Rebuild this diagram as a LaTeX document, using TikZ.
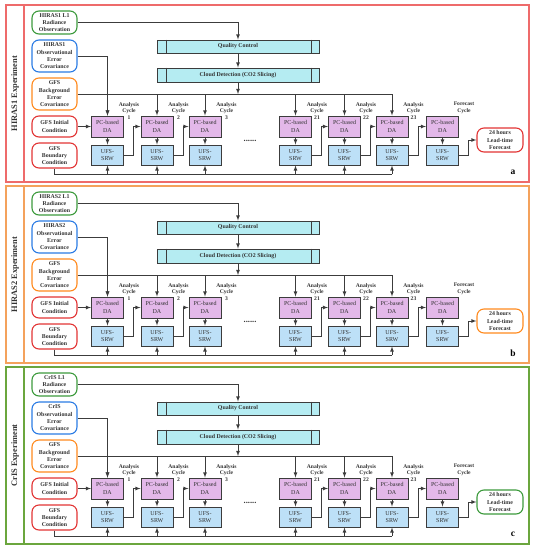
\documentclass[tikz,border=0pt]{standalone}
\usepackage{fontspec}
\setmainfont{Liberation Serif}
\usetikzlibrary{calc,positioning}

\definecolor{linegray}{HTML}{3C3C3C}
\definecolor{textgray}{HTML}{333333}
\definecolor{dafill}{HTML}{E3B8E9}
\definecolor{ufsfill}{HTML}{BDE0F7}
\definecolor{qcfill}{HTML}{B5ECF2}
\definecolor{ingreen}{HTML}{3C9A3C}
\definecolor{inblue}{HTML}{2A7BE4}
\definecolor{inorange}{HTML}{FF8A1E}
\definecolor{inred}{HTML}{E23434}
\definecolor{framea}{HTML}{EE6B6B}
\definecolor{frameb}{HTML}{F4A25C}
\definecolor{framec}{HTML}{6BA63E}

\begin{document}
\begin{tikzpicture}[x=1pt, y=-1pt, >=latex, line width=0.8pt, color=linegray,
	inbox/.style={draw, rounded corners=7pt, line width=1.1pt, fill=white, text=textgray,
		minimum width=45pt, inner sep=0pt, align=center, font=\fontsize{5.9}{7.3}\selectfont\bfseries},
	dabox/.style={draw, line width=1pt, fill=dafill, text=textgray, minimum width=32pt, minimum height=21pt,
		inner sep=0pt, align=center, font=\fontsize{6}{7.3}\selectfont},
	ufsbox/.style={dabox, fill=ufsfill, minimum height=20pt},
	barbox/.style={draw, line width=1pt, fill=qcfill, text=textgray, minimum width=162pt,
		inner sep=0pt, font=\fontsize{5.9}{7.3}\selectfont\bfseries},
	cyc/.style={align=center, text=textgray, inner sep=0pt, font=\fontsize{5.6}{6.6}\selectfont\bfseries}
	]
	\useasboundingbox (0,0) rectangle (533,550);
	\foreach \p/\sat/\fc/\oc/\lt in {0/HIRAS1/framea/inred/a, 1/HIRAS2/frameb/inorange/b, 2/CrIS/framec/ingreen/c}{
	\begin{scope}[yshift={-\p*181pt}]
		% panel frame
		\draw[\fc, line width=1.3pt] (6,5) rectangle (529,182);
		\draw[\fc, line width=1.3pt] (24,5) -- (24,182);
		\node[rotate=90, text=textgray, font=\fontsize{8.4}{10}\selectfont\bfseries] (exp) at (15,93.5) {\sat\ Experiment};
		\node[text=black, font=\fontsize{9.5}{10}\selectfont\bfseries] (letter) at (513,172) {\lt};

		% inputs
		\node[inbox, draw=ingreen, minimum height=23pt] (obs) at (54.5,22.5) {\sat\ L1\\Radiance\\Observation};
		\node[inbox, draw=inblue, minimum height=32pt] (oec) at (54.5,56) {\sat\\Observational\\Error\\Covariance};
		\node[inbox, draw=inorange, minimum height=32pt] (bge) at (54.5,94) {GFS\\Background\\Error\\Covariance};
		\node[inbox, draw=inred, minimum height=21pt] (ic) at (54.5,126.5) {GFS Initial\\Condition};
		\node[inbox, draw=inred, minimum height=25pt] (bc) at (54.5,155.5) {GFS\\Boundary\\Condition};
		\node[inbox, draw=\oc, minimum width=46pt, minimum height=24pt] (out) at (500,140) {24 hours\\Lead-time\\Forecast};

		% preprocessing
		\node[barbox, minimum height=13pt] (qc) at (238,46.5) {Quality Control};
		\node[barbox, minimum height=14pt] (cd) at (238,75) {Cloud Detection (CO2 Slicing)};
		\foreach \b in {qc,cd}{
			\draw[line width=1pt] ([xshift=10pt]\b.north west) -- ([xshift=10pt]\b.south west);
			\draw[line width=1pt] ([xshift=-8pt]\b.north east) -- ([xshift=-8pt]\b.south east);
		}

		% cycles
		\foreach \n/\x in {1/107.5, 2/157, 3/205, 21/295.5, 22/344.5, 23/392, f/442.5}{
			\node[dabox] (da\n) at (\x,126.5) {PC-based\\DA};
			\node[ufsbox] (ufs\n) at (\x,155) {UFS-\\SRW};
			\draw[->] (da\n) -- (ufs\n);
		}
		\foreach \n in {1,2,3,21,22,23}
			\node[cyc] (cyc\n) at ($(da\n.north east)+(5,-4.5)$) {Analysis\\Cycle\\\n};
		\node[cyc] (cycf) at ($(daf.north east)+(5,-8)$) {Forecast\\Cycle};
		\node[text=textgray, font=\fontsize{8.5}{9}\selectfont\bfseries] (dots) at (250,141) {......};

		% connectors
		\draw[->] (obs.east) -| (qc.north);
		\draw[->] (qc) -- (cd);
		\draw[->] (oec.east) -| (da1.north);
		\draw (bge.east) -- (da23 |- bge.east);
		\draw[->] (cd.south) -- (cd |- bge.east);
		\foreach \n in {1,2,3,21,22,23}
			\draw[->] (da\n |- bge.east) -- (da\n.north);
		\draw[->] (ic) -- (da1);
		\coordinate (bot) at (392,174);
		\draw (bc.south) |- (bot);
		\foreach \n in {1,2,3,21,22,23}
			\draw[->] (ufs\n |- bot) -- (ufs\n.south);
		\foreach \a/\b in {1/2, 2/3, 21/22, 22/23, 23/f}
			\draw[->] (ufs\a.east) -- ++(9.5,0) |- (da\b.west);
		\draw[->] (ufsf.east) -- ++(9,0) |- (out.west);
	\end{scope}
	}
\end{tikzpicture}
\end{document}
